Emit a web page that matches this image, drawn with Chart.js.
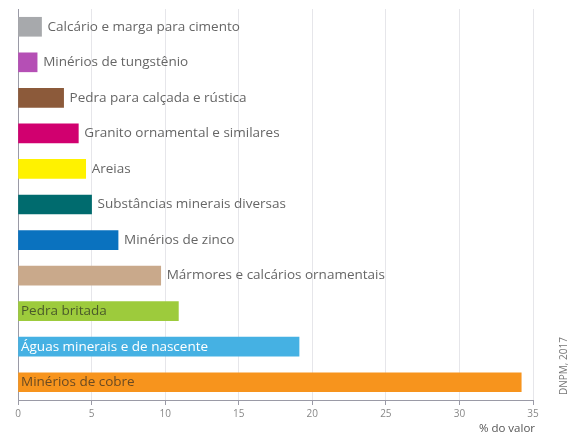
<!DOCTYPE html>
<html>
<head>
<meta charset="utf-8">
<script src="https://cdn.jsdelivr.net/npm/chart.js@4"></script>
<style>
  html, body { margin: 0; padding: 0; background: #fff; }
  #wrap { width: 576px; height: 439px; position: relative; }
</style>
</head>
<body>
<div id="wrap"><canvas id="chart" width="576" height="439"></canvas></div>
<script>
const categories = [
  'Calcário e marga para cimento',
  'Minérios de tungstênio',
  'Pedra para calçada e rústica',
  'Granito ornamental e similares',
  'Areias',
  'Substâncias minerais diversas',
  'Minérios de zinco',
  'Mármores e calcários ornamentais',
  'Pedra britada',
  'Águas minerais e de nascente',
  'Minérios de cobre'
];
const values = [1.6, 1.3, 3.1, 4.1, 4.6, 5.0, 6.8, 9.7, 10.9, 19.1, 34.2];
const barColors = ['#a7a9ac', '#b54fb5', '#8c5a3a', '#d1006f', '#fff200', '#006b6e',
  '#0a72bf', '#c9a98b', '#9dcb3c', '#45b1e3', '#f7941d'];
// labels written inside the bar (with their colour), the rest go after the bar end
const insideLabel = [null, null, null, null, null, null, null, null, '#4a5a2a', '#ffffff', '#6a4a22'];
const xTicks = [0, 5, 10, 15, 20, 25, 30, 35];
const axisTitle = '% do valor';
const source = 'DNPM, 2017';

const barLabels = {
  id: 'barLabels',
  afterDatasetsDraw(chart) {
    const ctx = chart.ctx;
    const meta = chart.getDatasetMeta(0);
    ctx.save();
    ctx.font = '13.5px "Open Sans", sans-serif';
    ctx.textBaseline = 'middle';
    meta.data.forEach((bar, i) => {
      if (insideLabel[i]) {
        ctx.fillStyle = insideLabel[i];
        ctx.fillText(categories[i], chart.chartArea.left + 3, bar.y);
      } else {
        ctx.fillStyle = '#666';
        ctx.fillText(categories[i], bar.x + 6, bar.y);
      }
    });
    // axis title and source
    ctx.fillStyle = '#555';
    ctx.textAlign = 'right';
    ctx.font = '11.5px "Open Sans", sans-serif';
    ctx.fillText(axisTitle, chart.chartArea.right + 2, 429);
    ctx.translate(564, 366);
    ctx.rotate(-Math.PI / 2);
    ctx.textAlign = 'center';
    ctx.font = '10px "Open Sans", sans-serif';
    ctx.fillStyle = '#777';
    ctx.fillText(source, 0, 0);
    ctx.restore();
  }
};

new Chart(document.getElementById('chart'), {
  type: 'bar',
  data: {
    labels: categories,
    datasets: [{
      data: values,
      backgroundColor: barColors,
      borderWidth: 0,
      barThickness: 19
    }]
  },
  options: {
    indexAxis: 'y',
    responsive: false,
    animation: false,
    layout: { padding: { top: 9, right: 43, left: 18, bottom: 0 } },
    plugins: { legend: { display: false }, tooltip: { enabled: false } },
    scales: {
      x: {
        min: 0,
        max: 35,
        afterBuildTicks: s => { s.ticks = xTicks.map(v => ({ value: v })); },
        afterFit: s => { s.height = 39; },
        grid: { color: '#e6e6ea', lineWidth: 1, tickLength: 5, tickColor: '#9a9aa6', drawOnChartArea: true },
        border: { display: true, color: '#9a9aa6', width: 1 },
        ticks: { color: '#888', font: { family: 'Open Sans', size: 10 }, padding: 3, maxRotation: 0 }
      },
      y: {
        afterFit: s => { s.width = 0; },
        grid: { display: false },
        border: { display: true, color: '#9a9aa6', width: 1 },
        ticks: { display: false }
      }
    }
  },
  plugins: [barLabels]
});
</script>
</body>
</html>
